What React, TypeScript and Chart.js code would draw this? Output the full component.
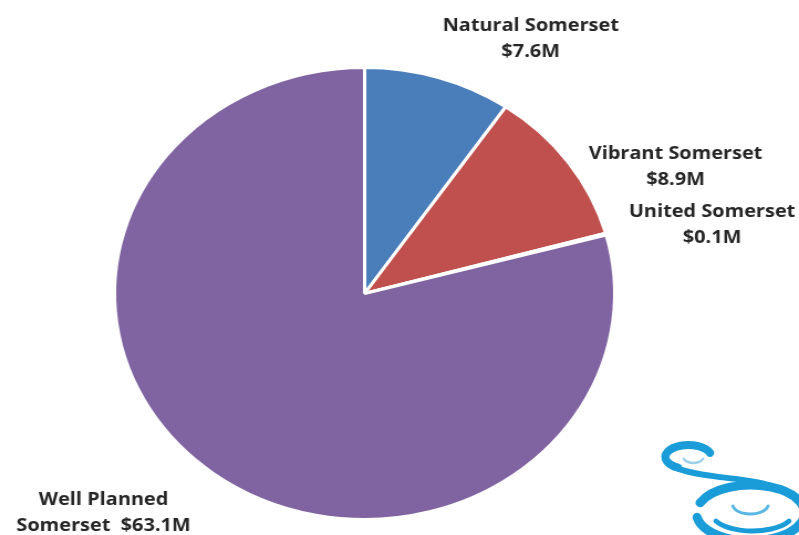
import React, { useEffect, useRef } from "react";
import { Chart, registerables } from "chart.js";

Chart.register(...registerables);

const categories = ["Natural Somerset", "Vibrant Somerset", "United Somerset", "Well Planned Somerset"];
const values = [7.6, 8.9, 0.1, 63.1];
const labelLines = [
  ["Natural Somerset", "$7.6M"],
  ["Vibrant Somerset", "$8.9M"],
  ["United Somerset", "$0.1M"],
  ["Well Planned", "Somerset  $63.1M"],
];
const colors = ["#4A7EBB", "#C0504D", "#9BBB59", "#8064A2"];
// label centre offsets relative to pie centre, in units of radius
const labelOffsets = [
  [0.664, -1.126],
  [1.243, -0.562],
  [1.389, -0.303],
  [-1.044, 0.971],
];

const DISPLAY_W = 799;
const DISPLAY_H = 535;
const STRETCH = 1.106;
const CANVAS_W = Math.round(DISPLAY_W / STRETCH);

const labelPlugin = {
  id: "sliceLabels",
  afterDatasetsDraw(chart: any) {
    const ctx = chart.ctx;
    const meta = chart.getDatasetMeta(0);
    ctx.save();
    ctx.font = "bold 18px 'Open Sans'";
    ctx.fillStyle = "#262626";
    ctx.textAlign = "center";
    ctx.textBaseline = "middle";
    meta.data.forEach((arc: any, i: number) => {
      const p = arc.getProps(["x", "y", "outerRadius"], true);
      const cx = p.x + labelOffsets[i][0] * p.outerRadius;
      const cy = p.y + labelOffsets[i][1] * p.outerRadius;
      const lines = labelLines[i];
      const lh = 26;
      lines.forEach((t, k) => {
        ctx.fillText(t, cx, cy + (k - (lines.length - 1) / 2) * lh);
      });
    });
    ctx.restore();
  },
  afterDraw(chart: any) {
    // decorative logo, drawn in display coordinates
    const ctx = chart.ctx;
    ctx.save();
    ctx.scale(1 / STRETCH, 1);
    ctx.lineCap = "round";
    // upper swirl
    ctx.strokeStyle = "#1A9CD8";
    ctx.lineWidth = 8;
    ctx.beginPath();
    ctx.ellipse(688, 457, 23, 12, 0, -0.35, Math.PI * 0.65, true);
    ctx.stroke();
    ctx.lineWidth = 6;
    ctx.beginPath();
    ctx.moveTo(676, 468);
    ctx.bezierCurveTo(712, 482, 762, 474, 790, 496);
    ctx.stroke();
    ctx.strokeStyle = "#9CCFEA";
    ctx.lineWidth = 2.5;
    ctx.beginPath();
    ctx.ellipse(693, 457, 10, 6, 0, 0.3, Math.PI - 0.3, false);
    ctx.stroke();
    // lower rings
    ctx.strokeStyle = "#1A9CD8";
    ctx.lineWidth = 9;
    ctx.beginPath();
    ctx.ellipse(750, 513, 54, 28, 0, Math.PI * 1.12, Math.PI * 2.95, false);
    ctx.stroke();
    ctx.lineWidth = 5;
    ctx.beginPath();
    ctx.ellipse(752, 513, 41, 18, 0, Math.PI * 0.85, Math.PI * 2.15, true);
    ctx.stroke();
    ctx.strokeStyle = "#5AB6E2";
    ctx.lineWidth = 3;
    ctx.beginPath();
    ctx.ellipse(750, 504, 18, 10, 0, 0.2, Math.PI - 0.2, false);
    ctx.stroke();
    ctx.restore();
  },
};

export default function App() {
  const ref = useRef<HTMLCanvasElement>(null);
  useEffect(() => {
    if (!ref.current) return;
    const chart = new Chart(ref.current, {
      type: "pie",
      data: {
        labels: categories,
        datasets: [
          {
            data: values,
            backgroundColor: colors,
            borderColor: "#FFFFFF",
            borderWidth: 3,
          },
        ],
      },
      options: {
        responsive: false,
        animation: false,
        devicePixelRatio: 1,
        layout: { padding: { top: 66, bottom: 14, left: 102, right: CANVAS_W - 102 - 455 } },
        plugins: {
          legend: { display: false },
          tooltip: { enabled: false },
          title: { display: false },
        },
      },
      plugins: [labelPlugin],
    });
    return () => chart.destroy();
  }, []);
  return (
    <div style={{ position: "fixed", left: 0, top: 0, width: DISPLAY_W, height: DISPLAY_H, background: "#fff" }}>
      <canvas
        ref={ref}
        width={CANVAS_W}
        height={DISPLAY_H}
        style={{ width: DISPLAY_W + "px", height: DISPLAY_H + "px", display: "block" }}
      />
    </div>
  );
}
